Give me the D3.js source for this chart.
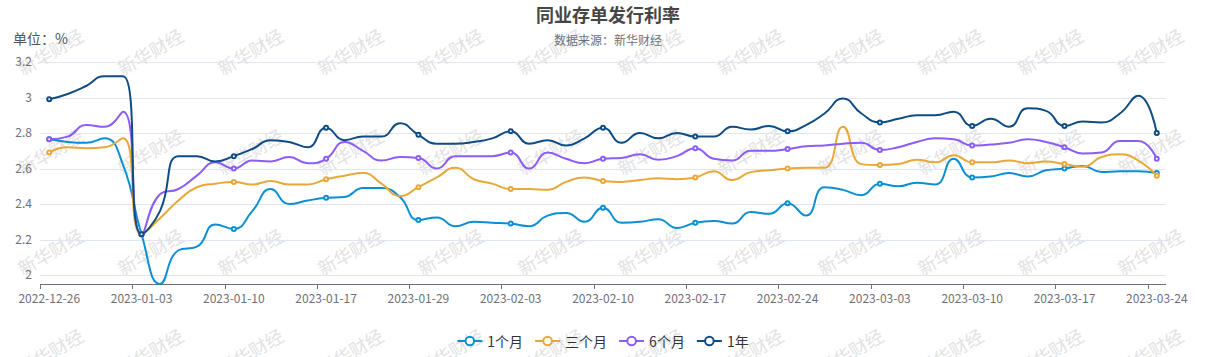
<!DOCTYPE html>
<html><head><meta charset="utf-8">
<script src="https://cdn.jsdelivr.net/npm/d3@7"></script>
<style>
body{margin:0;background:#fff;}
svg{display:block;font-family:"Noto Sans CJK SC","Microsoft YaHei",sans-serif;}
</style>
</head><body>
<svg id="chart" width="1207" height="357"></svg>
<script>
// ---------------- data ----------------
const dates = [
  "2022-12-26","2022-12-27","2022-12-28","2022-12-29","2022-12-30",
  "2023-01-03","2023-01-04","2023-01-05","2023-01-06","2023-01-09","2023-01-10","2023-01-11","2023-01-12","2023-01-13","2023-01-16","2023-01-17","2023-01-18","2023-01-19","2023-01-20","2023-01-28","2023-01-29","2023-01-30","2023-01-31",
  "2023-02-01","2023-02-02","2023-02-03","2023-02-06","2023-02-07","2023-02-08","2023-02-09","2023-02-10","2023-02-13","2023-02-14","2023-02-15","2023-02-16","2023-02-17","2023-02-20","2023-02-21","2023-02-22","2023-02-23","2023-02-24","2023-02-27","2023-02-28",
  "2023-03-01","2023-03-02","2023-03-03","2023-03-06","2023-03-07","2023-03-08","2023-03-09","2023-03-10","2023-03-13","2023-03-14","2023-03-15","2023-03-16","2023-03-17","2023-03-20","2023-03-21","2023-03-22","2023-03-23","2023-03-24"
];
const seriesNames = ["1个月", "三个月", "6个月", "1年"];
const oneMonth = [2.765,2.75,2.745,2.77,2.62, 2.23,1.95,2.14,2.16,2.285, 2.26,2.36,2.485,2.40,2.42, 2.435,2.44,2.49,2.49,2.44, 2.31,2.325,2.275,2.30,2.295, 2.29,2.275,2.335,2.35,2.30, 2.38,2.295,2.30,2.315,2.265, 2.295,2.305,2.29,2.355,2.345, 2.405,2.335,2.495,2.48,2.45, 2.515,2.50,2.52,2.51,2.655, 2.55,2.555,2.575,2.555,2.59, 2.60,2.615,2.58,2.585,2.585, 2.575];
const threeMonth = [2.69,2.72,2.715,2.72,2.77, 2.23,2.32,2.42,2.495,2.515, 2.525,2.51,2.53,2.51,2.51, 2.54,2.56,2.575,2.515,2.445, 2.495,2.55,2.605,2.54,2.515, 2.485,2.485,2.48,2.525,2.55, 2.53,2.525,2.535,2.545,2.54, 2.55,2.585,2.535,2.58,2.59, 2.60,2.605,2.605,2.835,2.625, 2.62,2.625,2.65,2.635,2.675, 2.635,2.635,2.645,2.63,2.64, 2.625,2.61,2.665,2.68,2.645, 2.56];
const sixMonth = [2.765,2.78,2.845,2.835,2.92, 2.23,2.455,2.485,2.56,2.635, 2.60,2.645,2.64,2.665,2.63, 2.655,2.75,2.70,2.645,2.665, 2.66,2.60,2.67,2.67,2.67, 2.69,2.60,2.69,2.655,2.63, 2.655,2.66,2.68,2.65,2.67, 2.715,2.655,2.645,2.70,2.70, 2.71,2.725,2.73,2.74,2.745, 2.705,2.72,2.75,2.77,2.765, 2.73,2.735,2.745,2.765,2.75, 2.72,2.685,2.69,2.755,2.755, 2.655];
const oneYear = [2.99,3.02,3.065,3.12,3.12, 2.23,2.36,2.67,2.67,2.64, 2.67,2.71,2.76,2.75,2.72, 2.83,2.76,2.78,2.78,2.855, 2.79,2.74,2.74,2.75,2.77, 2.81,2.74,2.76,2.73,2.77, 2.83,2.745,2.80,2.77,2.80, 2.78,2.78,2.835,2.82,2.84, 2.81,2.845,2.91,2.995,2.91, 2.86,2.88,2.90,2.90,2.92, 2.84,2.88,2.835,2.94,2.925, 2.84,2.865,2.86,2.91,3.01, 2.80];
const yTicks = [2, 2.2, 2.4, 2.6, 2.8, 3, 3.2];
const yTickLabels = ["2", "2.2", "2.4", "2.6", "2.8", "3", "3.2"];
const titleText = "同业存单发行利率";
const subtitleText = "数据来源：新华财经";
const unitText = "单位：%";
const watermarkText = "新华财经";

// ---------------- styles ----------------
const colors = ["#0b8fd3", "#e8a838", "#8b5cf6", "#0f4c84"];
const allSeries = [oneMonth, threeMonth, sixMonth, oneYear];
const W = 1207, H = 357;
const grid = {left: 40, right: 1166, top: 62, bottom: 284};

const svg = d3.select("#chart");

// watermark
const wm = svg.append("g");
for (let r = 0; r < 4; r++) {
  for (let c = 0; c < 12; c++) {
    const wx = 50 + c * 100, wy = 51 + r * 100;
    wm.append("text")
      .attr("transform", `translate(${wx},${wy}) rotate(-30)`)
      .attr("text-anchor", "middle").attr("dominant-baseline", "central")
      .attr("font-size", 18).attr("fill", "#e2e2e2")
      .text(watermarkText);
  }
}

// scales
const x = d3.scaleBand().domain(dates).range([grid.left, grid.right]).paddingInner(0).paddingOuter(0);
const bw = x.bandwidth();
const cx = d => x(d) + bw / 2;
const allVals = allSeries.flat();
const y = d3.scaleLinear().domain([d3.min(allVals), 3.2]).range([grid.bottom, grid.top]);

// grid lines
svg.append("g").selectAll("line").data(yTicks).join("line")
  .attr("x1", grid.left).attr("x2", grid.right)
  .attr("y1", d => Math.round(y(d)) + 0.5).attr("y2", d => Math.round(y(d)) + 0.5)
  .attr("stroke", "#e0e6f1").attr("stroke-width", 1);

// y axis labels
const yAxis = d3.axisLeft(y).tickValues(yTicks).tickSize(0).tickPadding(8)
  .tickFormat((d, i) => yTickLabels[i]);
const gy = svg.append("g").attr("transform", `translate(${grid.left},0)`).call(yAxis);
gy.select(".domain").remove();
gy.selectAll("text").attr("font-size", 12).attr("fill", "#6e7079")
  .attr("font-family", '"Noto Sans CJK SC", sans-serif');

// x axis
const labelDates = dates.filter((d, i) => i % 5 === 0);
const xAxis = d3.axisBottom(x).tickValues(labelDates).tickSize(0).tickPadding(10);
const gx = svg.append("g").attr("transform", `translate(0,${grid.bottom})`).call(xAxis);
gx.select(".domain").attr("stroke", "#6e7079").attr("d", `M${grid.left},0.5H${grid.right}`);
gx.selectAll("text").attr("font-size", 12).attr("fill", "#6e7079")
  .attr("font-family", '"Noto Sans CJK SC", sans-serif');
gx.append("g").selectAll("line").data(labelDates).join("line")
  .attr("x1", d => Math.round(x(d)) + 0.5).attr("x2", d => Math.round(x(d)) + 0.5)
  .attr("y1", 0).attr("y2", 5).attr("stroke", "#6e7079");

// ECharts-like smooth curve
function echartsSmooth(context) {
  let pts;
  return {
    areaStart() {}, areaEnd() {},
    lineStart() { pts = []; },
    point(px, py) { pts.push([+px, +py]); },
    lineEnd() {
      const n = pts.length, s = 0.5;
      if (!n) return;
      context.moveTo(pts[0][0], pts[0][1]);
      let cpx0 = pts[0][0], cpy0 = pts[0][1], prevX = pts[0][0], prevY = pts[0][1];
      for (let k = 1; k < n; k++) {
        const px = pts[k][0], py = pts[k][1];
        let cpx1, cpy1, ncx = px, ncy = py;
        if (k === n - 1) { cpx1 = px; cpy1 = py; }
        else {
          const nx = pts[k + 1][0], ny = pts[k + 1][1];
          let vx = nx - prevX, vy = ny - prevY;
          const l0 = Math.hypot(px - prevX, py - prevY), l1 = Math.hypot(nx - px, ny - py);
          const r = l1 / (l1 + l0);
          ncx = px + vx * s * r; ncy = py + vy * s * r;
          ncx = Math.min(ncx, Math.max(nx, px)); ncy = Math.min(ncy, Math.max(ny, py));
          ncx = Math.max(ncx, Math.min(nx, px)); ncy = Math.max(ncy, Math.min(ny, py));
          vx = ncx - px; vy = ncy - py;
          cpx1 = px - vx * l0 / l1; cpy1 = py - vy * l0 / l1;
          cpx1 = Math.min(cpx1, Math.max(prevX, px)); cpy1 = Math.min(cpy1, Math.max(prevY, py));
          cpx1 = Math.max(cpx1, Math.min(prevX, px)); cpy1 = Math.max(cpy1, Math.min(prevY, py));
          vx = px - cpx1; vy = py - cpy1;
          ncx = px + vx * l1 / l0; ncy = py + vy * l1 / l0;
        }
        context.bezierCurveTo(cpx0, cpy0, cpx1, cpy1, px, py);
        cpx0 = ncx; cpy0 = ncy; prevX = px; prevY = py;
      }
    }
  };
}

const line = d3.line().x((d, i) => cx(dates[i])).y(d => y(d)).curve(echartsSmooth);

allSeries.forEach((vals, si) => {
  const g = svg.append("g");
  g.append("path").datum(vals).attr("d", line)
    .attr("fill", "none").attr("stroke", colors[si]).attr("stroke-width", 2)
    .attr("stroke-linejoin", "round");
  g.selectAll("circle").data(vals.map((v, i) => [i, v]).filter(d => d[0] % 5 === 0)).join("circle")
    .attr("cx", d => cx(dates[d[0]])).attr("cy", d => y(d[1])).attr("r", 2)
    .attr("fill", "#fff").attr("stroke", colors[si]).attr("stroke-width", 2);
});

// titles
svg.append("text").attr("x", 608).attr("y", 22).attr("text-anchor", "middle")
  .attr("font-size", 18).attr("font-weight", "bold").attr("fill", "#464646").text(titleText);
svg.append("text").attr("x", 608).attr("y", 45).attr("text-anchor", "middle")
  .attr("font-size", 12).attr("fill", "#6e7079").text(subtitleText);
svg.append("text").attr("x", 13).attr("y", 44)
  .attr("font-size", 14).attr("fill", "#555").text(unitText);

// legend
const legend = svg.append("g");
let lx = 0;
seriesNames.forEach((name, i) => {
  const it = legend.append("g");
  it.append("line").attr("x1", 0).attr("x2", 25).attr("y1", 0).attr("y2", 0)
    .attr("stroke", colors[i]).attr("stroke-width", 2);
  it.append("circle").attr("cx", 12.5).attr("cy", 0).attr("r", 4.3)
    .attr("fill", "#fff").attr("stroke", colors[i]).attr("stroke-width", 2);
  const t = it.append("text").attr("x", 30).attr("y", 0).attr("dominant-baseline", "central")
    .attr("font-size", 14).attr("fill", "#333").text(name);
  const w = 30 + t.node().getComputedTextLength();
  it.attr("transform", `translate(${lx},0)`);
  lx += w + 12;
});
const totalW = lx - 12;
legend.attr("transform", `translate(${603 - totalW / 2},341)`);
</script>
</body></html>
